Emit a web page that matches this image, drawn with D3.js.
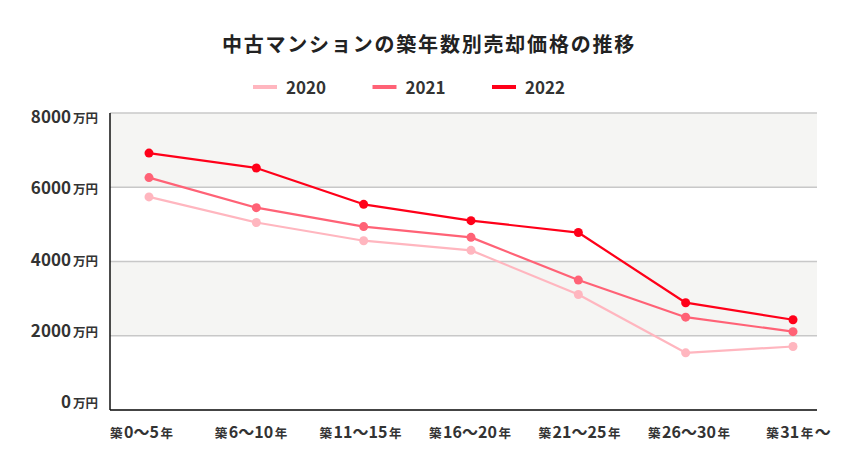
<!DOCTYPE html>
<html><head><meta charset="utf-8">
<script src="https://cdn.jsdelivr.net/npm/d3@7"></script>
<style>
html,body{margin:0;padding:0;background:#fff;}
text{font-family:"Noto Sans CJK JP","Noto Sans",sans-serif;}
</style></head>
<body><svg id="c" width="853" height="463"></svg>
<script>
const title = "中古マンションの築年数別売却価格の推移";
const categories = ["築0〜5年","築6〜10年","築11〜15年","築16〜20年","築21〜25年","築26〜30年","築31年〜"];
const seriesNames = ["2020","2021","2022"];
const values2020 = [5740,5050,4560,4300,3110,1540,1710];
const values2021 = [6260,5450,4940,4650,3500,2500,2110];
const values2022 = [6920,6520,5540,5100,4780,2890,2430];
const yTicks = [0,2000,4000,6000,8000];
const yUnit = "万円";
const colors = ["#ffb6bf","#ff6276","#ff0019"];

const series = [values2020, values2021, values2022];
const svg = d3.select("#c");
const plot = {left:110, right:817, top:113, bottom:410};

const y = d3.scaleLinear().domain([0,8000]).range([plot.bottom, plot.top]);
const yLab = d3.scaleLinear().domain([0,8000]).range([plot.bottom-2, plot.top+10]);
const x = d3.scalePoint().domain(categories).range([149, 793]);
const xLab = d3.scalePoint().domain(categories).range([140, 797]);

// bands
const bandPairs = d3.pairs(yTicks);
svg.append("g").selectAll("rect").data(bandPairs).join("rect")
  .attr("x", plot.left).attr("width", plot.right-plot.left)
  .attr("y", d=>y(d[1])).attr("height", d=>y(d[0])-y(d[1]))
  .attr("fill", (d,i)=> i%2===1 ? "#f5f5f3" : "#ffffff");

// gridlines
svg.append("g").selectAll("line").data(yTicks.filter(v=>v>0)).join("line")
  .attr("x1", plot.left).attr("x2", plot.right)
  .attr("y1", d=>y(d)).attr("y2", d=>y(d))
  .attr("stroke", "#c8c8c8").attr("stroke-width", 1.5);

// axes lines
svg.append("line").attr("x1",plot.left).attr("x2",plot.right)
  .attr("y1",y(0)).attr("y2",y(0)).attr("stroke","#444").attr("stroke-width",1.8);
svg.append("line").attr("x1",plot.left).attr("x2",plot.left)
  .attr("y1",y(8000)).attr("y2",y(0)).attr("stroke","#111").attr("stroke-width",1.5);

// y labels
const yl = svg.append("g").selectAll("text").data(yTicks).join("text")
  .attr("x", 98).attr("y", d=>yLab(d)).attr("text-anchor","end").attr("fill","#333");
yl.append("tspan").attr("font-size",17).attr("font-weight",700).text(d=>d);
yl.append("tspan").attr("font-size",12.5).attr("font-weight",700).attr("dx",2).text(yUnit);

// x labels
const xl = svg.append("g").selectAll("text").data(categories).join("text")
  .attr("x", d=>xLab(d)).attr("y", 438).attr("text-anchor","middle").attr("fill","#333");
xl.each(function(d){
  const parts = d.match(/[築年]|[^築年]+/g);
  const t = d3.select(this);
  parts.forEach(p=>{
    const small = (p==="築"||p==="年");
    t.append("tspan").attr("font-size", small?12.5:16).attr("font-weight",700)
      .attr("dx", 1.5).text(p);
  });
});

// lines
const line = d3.line().x((d,i)=>x(categories[i])).y(d=>y(d));
series.forEach((s,k)=>{
  svg.append("path").datum(s).attr("d", line).attr("fill","none")
    .attr("stroke", colors[k]).attr("stroke-width", 2.2).attr("stroke-linejoin","round");
  svg.append("g").selectAll("circle").data(s).join("circle")
    .attr("cx",(d,i)=>x(categories[i])).attr("cy",d=>y(d)).attr("r",4.5)
    .attr("fill", colors[k]);
});

// title
svg.append("text").attr("x", 429).attr("y", 52).attr("text-anchor","middle")
  .attr("font-size",20).attr("font-weight",700).attr("fill","#222")
  .attr("letter-spacing",1.8).text(title);

// legend
const lg = svg.append("g").selectAll("g").data(seriesNames).join("g")
  .attr("transform",(d,i)=>`translate(${253 + i*119.5},87)`);
lg.append("line").attr("x1",0).attr("x2",24).attr("stroke",(d,i)=>colors[i]).attr("stroke-width",4);
lg.append("text").attr("x",33).attr("y",7).attr("font-size",17).attr("font-weight",700)
  .attr("fill","#333").text(d=>d);
</script></body></html>
